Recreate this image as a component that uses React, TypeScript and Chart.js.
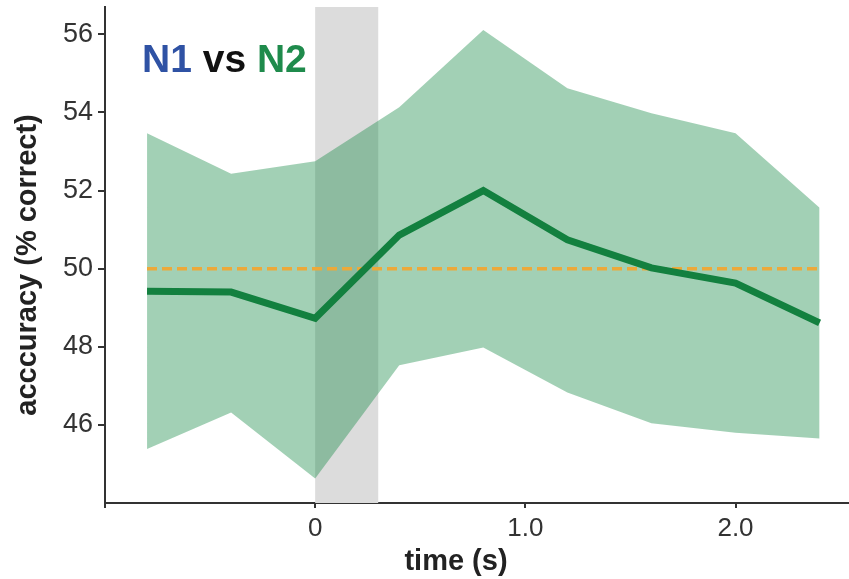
import React, { useEffect, useRef } from "react";
import { Chart, registerables } from "chart.js";

Chart.register(...registerables);

const times = [-0.8, -0.4, 0, 0.4, 0.8, 1.2, 1.6, 2.0, 2.4];
const meanAcc = [49.42, 49.4, 48.73, 50.86, 52.0, 50.74, 50.02, 49.63, 48.61];
const upperAcc = [53.47, 52.43, 52.75, 54.13, 56.11, 54.62, 53.98, 53.47, 51.56];
const lowerAcc = [45.38, 46.32, 44.63, 47.53, 47.98, 46.83, 46.04, 45.8, 45.65];
const chanceLevel = 50;
const stimWindow = [0, 0.3];
const xTickValues = [0, 1, 2];
const xTickLabels = ["0", "1.0", "2.0"];
const yTickValues = [46, 48, 50, 52, 54, 56];

const FONT = "'Liberation Sans', Arial, Helvetica, sans-serif";

export default function App() {
  const ref = useRef<HTMLCanvasElement | null>(null);

  useEffect(() => {
    document.body.style.margin = "0";
    const canvas = ref.current!;
    const pts = (vals: number[]) => times.map((t, i) => ({ x: t, y: vals[i] }));

    const overlay = {
      id: "overlay",
      beforeDatasetsDraw(chart: any) {
        const { ctx, chartArea, scales } = chart;
        const x0 = scales.x.getPixelForValue(stimWindow[0]);
        const x1 = scales.x.getPixelForValue(stimWindow[1]);
        ctx.save();
        ctx.fillStyle = "#dcdcdc";
        ctx.fillRect(x0, chartArea.top, x1 - x0, chartArea.bottom - chartArea.top);
        ctx.restore();
      },
      afterDraw(chart: any) {
        const { ctx, chartArea } = chart;
        ctx.save();
        ctx.strokeStyle = "#333";
        ctx.lineWidth = 2;
        ctx.beginPath();
        ctx.moveTo(chartArea.left, chartArea.bottom);
        ctx.lineTo(chartArea.left, chartArea.bottom + 5);
        ctx.stroke();
        ctx.restore();

        ctx.save();
        ctx.fillStyle = "#222";
        ctx.font = `bold 29px ${FONT}`;
        ctx.textAlign = "center";
        ctx.textBaseline = "alphabetic";
        ctx.translate(36, 265);
        ctx.rotate(-Math.PI / 2);
        ctx.fillText("acccuracy (% correct)", 0, 0);
        ctx.restore();

        ctx.save();
        ctx.fillStyle = "#222";
        ctx.font = `bold 29px ${FONT}`;
        ctx.textAlign = "center";
        ctx.textBaseline = "alphabetic";
        ctx.fillText("time (s)", 456, 570);
        ctx.restore();

        ctx.save();
        ctx.font = `bold 39px ${FONT}`;
        ctx.textAlign = "left";
        ctx.textBaseline = "alphabetic";
        let x = 142;
        const y = 72;
        const parts: [string, string][] = [
          ["N1", "#2f52a4"],
          [" vs ", "#111"],
          ["N2", "#1f8b4c"],
        ];
        for (const [t, c] of parts) {
          ctx.fillStyle = c;
          ctx.fillText(t, x, y);
          x += ctx.measureText(t).width;
        }
        ctx.restore();
      },
    };

    const chart = new Chart(canvas, {
      type: "line",
      data: {
        datasets: [
          {
            label: "mean",
            data: pts(meanAcc),
            borderColor: "#13803f",
            borderWidth: 7,
            pointRadius: 0,
            fill: false,
            tension: 0,
          },
          {
            label: "chance",
            data: [
              { x: times[0], y: chanceLevel },
              { x: times[times.length - 1], y: chanceLevel },
            ],
            borderColor: "#eca93a",
            borderWidth: 3.5,
            borderDash: [10, 5],
            pointRadius: 0,
            fill: false,
          },
          {
            label: "upper",
            data: pts(upperAcc),
            borderWidth: 0,
            borderColor: "rgba(0,0,0,0)",
            backgroundColor: "rgba(30,140,75,0.41)",
            pointRadius: 0,
            fill: "+1",
            tension: 0,
          },
          {
            label: "lower",
            data: pts(lowerAcc),
            borderWidth: 0,
            borderColor: "rgba(0,0,0,0)",
            pointRadius: 0,
            fill: false,
            tension: 0,
          },
        ],
      },
      options: {
        responsive: false,
        animation: false,
        devicePixelRatio: 1,
        layout: { padding: { left: 0, right: 0, top: 7, bottom: 0 } },
        plugins: {
          legend: { display: false },
          tooltip: { enabled: false },
          title: { display: false },
        },
        scales: {
          x: {
            type: "linear",
            min: -1.0,
            max: 2.54,
            afterBuildTicks(scale: any) {
              scale.ticks = xTickValues.map((v) => ({ value: v }));
            },
            afterFit(scale: any) {
              scale.height = 76;
            },
            ticks: {
              callback: (v: any) => {
                const i = xTickValues.indexOf(Number(v));
                return i >= 0 ? xTickLabels[i] : "";
              },
              font: { family: FONT, size: 26 },
              color: "#333",
              padding: 5,
              maxRotation: 0,
            },
            grid: {
              drawOnChartArea: false,
              drawTicks: true,
              tickLength: 5,
              color: "#333",
              lineWidth: 2,
            },
            border: { display: true, color: "#333", width: 2 },
          },
          y: {
            type: "linear",
            min: 44,
            max: 56.7,
            afterBuildTicks(scale: any) {
              scale.ticks = yTickValues.map((v) => ({ value: v }));
            },
            afterFit(scale: any) {
              scale.width = 105;
            },
            ticks: {
              font: { family: FONT, size: 27, lineHeight: 0.1 },
              color: "#333",
              padding: 5,
            },
            grid: {
              drawOnChartArea: false,
              drawTicks: true,
              tickLength: 7,
              color: "#333",
              lineWidth: 2,
            },
            border: { display: true, color: "#333", width: 2 },
          },
        },
      },
      plugins: [overlay],
    });

    return () => chart.destroy();
  }, []);

  return (
    <div style={{ position: "absolute", left: 0, top: 0, width: 849, height: 579 }}>
      <canvas ref={ref} width={849} height={579} />
    </div>
  );
}
